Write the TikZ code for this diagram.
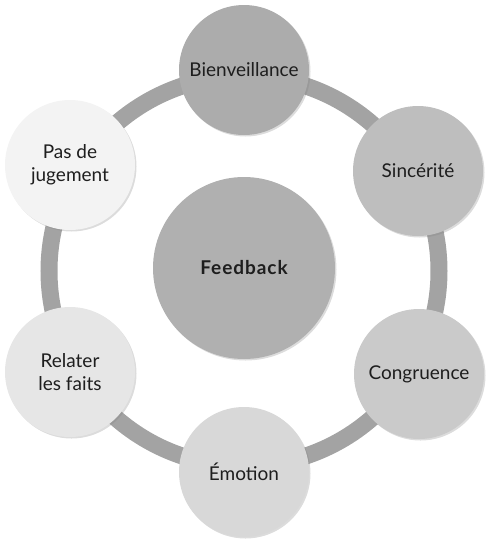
\documentclass[tikz,border=0pt]{standalone}
\usepackage{fontspec}
\setmainfont{Lato}
\usetikzlibrary{shadows}
\definecolor{ringgray}{RGB}{163,163,163}
\definecolor{txt}{RGB}{30,30,30}
\definecolor{cA}{RGB}{172,172,172}
\definecolor{cB}{RGB}{190,190,190}
\definecolor{cC}{RGB}{202,202,202}
\definecolor{cD}{RGB}{216,216,216}
\definecolor{cE}{RGB}{230,230,230}
\definecolor{cF}{RGB}{243,243,243}
\definecolor{cM}{RGB}{176,176,176}
\tikzset{
  bubble/.style={circle, minimum size=130pt, inner sep=0pt, align=center,
    text=txt, font=\fontsize{19}{23}\selectfont,
    drop shadow={opacity=0.28, shadow xshift=1.5pt, shadow yshift=-1.5pt}},
  hub/.style={circle, minimum size=182pt, inner sep=0pt, align=center,
    text=txt, font=\fontsize{19}{23}\selectfont\bfseries\addfontfeature{LetterSpace=5},
    drop shadow={opacity=0.28, shadow xshift=1.5pt, shadow yshift=-1.5pt}},
  ring/.style={draw=ringgray, line width=17pt}
}
\begin{document}
\begin{tikzpicture}[x=1pt, y=-1pt]
\useasboundingbox (0,0) rectangle (494,547);
\coordinate (c) at (244,271);
\draw[ring] (c) circle (195pt);
\node[hub, fill=cM] (feedback) at (244,268) {Feedback};
\node[bubble, fill=cA] (bienv) at (244,70) {Bienveillance};
\node[bubble, fill=cB] (sinc) at (418,171) {Sincérité};
\node[bubble, fill=cC] (congr) at (419,374) {Congruence};
\node[bubble, fill=cD] (emo) at (244,472) {Émotion};
\node[bubble, fill=cE] (relat) at (70,372) {Relater\\les faits};
\node[bubble, fill=cF] (pas) at (70,165) {Pas de\\jugement};
\end{tikzpicture}
\end{document}
